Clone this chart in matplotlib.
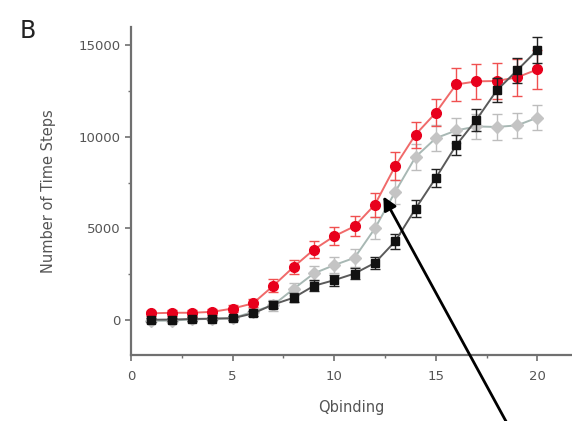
import numpy as np
import matplotlib
matplotlib.use("Agg")
import matplotlib.pyplot as plt
from matplotlib.ticker import MultipleLocator

qbinding = list(range(1, 21))

red_steps = [370, 400, 400, 450, 630, 910, 1870, 2900, 3850, 4580,
             5120, 6300, 8400, 10120, 11320, 12860, 13030, 13050, 13250, 13680]
red_err = [150, 150, 150, 150, 180, 220, 350, 400, 450, 500,
           550, 650, 750, 700, 750, 900, 950, 1000, 1000, 1050]

black_steps = [20, 30, 60, 80, 100, 360, 850, 1220, 1870, 2180,
               2540, 3120, 4300, 6080, 7760, 9540, 10940, 12540, 13630, 14750]
black_err = [100, 100, 100, 100, 120, 150, 200, 250, 300, 300,
             320, 350, 400, 450, 500, 550, 600, 650, 700, 720]

gray_steps = [-40, -30, 40, 70, 100, 450, 820, 1700, 2550, 3000,
              3400, 5000, 7000, 8900, 9930, 10350, 10570, 10540, 10630, 11050]
gray_err = [120, 120, 120, 120, 150, 200, 300, 350, 400, 450,
            500, 600, 650, 700, 700, 700, 700, 700, 700, 700]

fig = plt.figure(figsize=(5.72, 4.21), dpi=100)
ax = fig.add_axes([0.229, 0.157, 0.771, 0.779])

common = dict(capsize=3.5, elinewidth=1.0, capthick=1.0, markersize=7, linewidth=1.4)

ax.errorbar(qbinding, gray_steps, yerr=gray_err, fmt='-D', color='#a8b8b4',
            mfc='#c4c4c4', mec='#c4c4c4', ecolor='#bdbdbd', zorder=2,
            **{**common, 'markersize': 6})
ax.errorbar(qbinding, red_steps, yerr=red_err, fmt='-o', color='#f06a6a',
            mfc='#e8001c', mec='#e8001c', ecolor='#f05050', zorder=3, **common)
ax.errorbar(qbinding, black_steps, yerr=black_err, fmt='-s', color='#5a5a5a',
            mfc='#111111', mec='#111111', ecolor='#222222', zorder=4,
            **{**common, 'markersize': 6})

ax.set_xlim(0, 21.7)
ax.set_ylim(-1900, 16000)

ax.xaxis.set_major_locator(MultipleLocator(5))
ax.xaxis.set_minor_locator(MultipleLocator(2.5))
ax.yaxis.set_major_locator(MultipleLocator(5000))
ax.yaxis.set_minor_locator(MultipleLocator(2500))

for side in ('top', 'right'):
    ax.spines[side].set_visible(False)
for side in ('left', 'bottom'):
    ax.spines[side].set_color('#707070')
    ax.spines[side].set_linewidth(1.6)

ax.tick_params(which='major', direction='out', length=4, width=1.2,
               color='#707070', labelsize=9.5, labelcolor='#555555')
ax.tick_params(axis='x', which='major', pad=7)
ax.tick_params(which='minor', direction='out', length=2.5, width=1.0,
               color='#707070')

ax.set_xlabel('Qbinding', fontsize=10.5, color='#555555', labelpad=12)
ax.set_ylabel('Number of Time Steps', fontsize=10.5, color='#555555', labelpad=16)

fig.text(0.035, 0.955, 'B', fontsize=17, color='#222222', va='top', ha='left')

# pointer arrow into the curves
fig.add_artist(matplotlib.patches.FancyArrowPatch(
    (508 / 572, 1 - 425 / 421), (382 / 572, 1 - 194 / 421),
    transform=fig.transFigure, arrowstyle='-|>', mutation_scale=20,
    color='black', linewidth=2.0, clip_on=False))

fig.savefig('out.png', dpi=100)
